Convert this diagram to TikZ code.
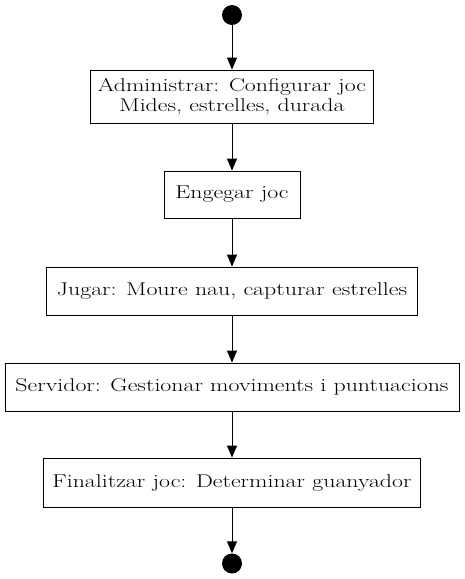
\documentclass[tikz,border=0pt]{standalone}
\usetikzlibrary{arrows.meta}
\newcommand{\widetxt}[1]{\scalebox{1.29}[1]{#1}}
\begin{document}
\begin{tikzpicture}[x=1pt,y=-1pt,
  every node/.style={font=\fontsize{18.5}{20}\selectfont},
  act/.style={draw,line width=0.9pt,inner sep=0pt,align=center},
  dot/.style={circle,fill=black,inner sep=0pt,minimum size=20pt},
  flow/.style={line width=0.9pt,-{Triangle[length=12pt,width=10pt]}}]
\useasboundingbox (0,0) rectangle (465,579);
\node[dot] (s) at (232,15) {};
\node[act,minimum width=283pt,minimum height=53pt] (a) at (232,96.5) {\widetxt{Administrar: Configurar joc}\\\widetxt{Mides, estrelles, durada}};
\node[act,minimum width=136pt,minimum height=47pt] (b) at (232,194.5) {\widetxt{Engegar joc}};
\node[act,minimum width=371pt,minimum height=48pt] (c) at (232,291) {\widetxt{Jugar: Moure nau, capturar estrelles}};
\node[act,minimum width=454pt,minimum height=48pt] (d) at (232,387) {\widetxt{Servidor: Gestionar moviments i puntuacions}};
\node[act,minimum width=377pt,minimum height=49pt] (e) at (232,482.5) {\widetxt{Finalitzar joc: Determinar guanyador}};
\node[dot] (f) at (232,563.5) {};
\draw[flow] (s) -- (a);
\draw[flow] (a) -- (b);
\draw[flow] (b) -- (c);
\draw[flow] (c) -- (d);
\draw[flow] (d) -- (e);
\draw[flow] (e) -- (f);
\end{tikzpicture}
\end{document}
